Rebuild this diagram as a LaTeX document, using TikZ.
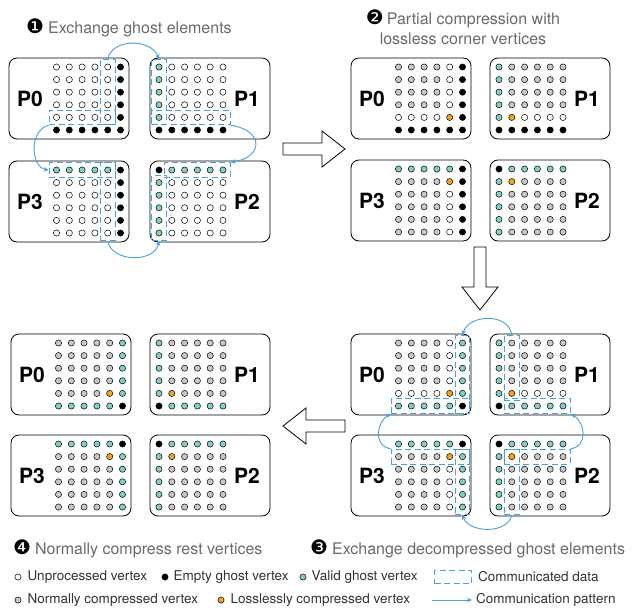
\documentclass[tikz,border=0pt]{standalone}
\usepackage{fontspec}
\setmainfont{TeX Gyre Heros}
\newfontfamily\dingfont{DejaVu Sans}
\usepackage{xcolor}
\usepackage{tikz}
\usetikzlibrary{positioning, calc, fit, arrows.meta}

\definecolor{commblue}{RGB}{74,160,216}
\definecolor{stepgray}{RGB}{105,105,105}
\definecolor{legendgray}{RGB}{50,50,50}
% vertex fills: w unprocessed, k empty ghost, t valid ghost, g compressed, o lossless
\colorlet{cw}{white}
\colorlet{ck}{black}
\definecolor{ct}{RGB}{132,206,200}
\definecolor{cg}{RGB}{200,200,200}
\definecolor{co}{RGB}{244,165,30}

% step number in a black disc
\newcommand{\stepno}[1]{\textcolor{black}{\dingfont\fontsize{20}{20}\selectfont #1}}

% one rank: box, label and its 6x6 vertices
\newcommand{\rank}[6]{%
  \node[rankbox, anchor=north west] (#1) at (#2) {};
  \node[ranklabel] (#1-lbl) at ($(#1.west)+(#4,0)$) {#3};
  \foreach \dotrow [count=\ri] in {#6} {
    \foreach \kind [count=\ci] in \dotrow {
      \node[vertex=c\kind] (#1-\ri-\ci) at ($(#1.north west)+(#5+12.8*\ci-12.8,9+12.6*\ri-12.6)$) {};
    }
  }
}

\begin{document}
\begin{tikzpicture}[x=1pt, y=-1pt,
    rankbox/.style={draw, rounded corners=8pt, line width=0.8pt, minimum width=120pt, minimum height=81pt, inner sep=0pt, outer sep=0pt},
    ranklabel/.style={font=\fontsize{21}{21}\selectfont\bfseries, inner sep=0pt},
    vertex/.style={circle, draw, fill=#1, line width=0.5pt, minimum size=6.2pt, inner sep=0pt},
    comm/.style={draw=commblue, line width=0.9pt, dash pattern=on 6pt off 3.5pt, inner sep=4pt},
    commarrow/.style={draw=commblue, line width=0.9pt, -{Stealth[length=5pt,width=4.5pt]}},
    hollow/.style={draw, line width=0.8pt, fill=white, line join=miter},
    steptitle/.style={text=stepgray, font=\fontsize{16}{20}\selectfont, inner sep=0pt},
    legtext/.style={text=legendgray, font=\fontsize{13.5}{16}\selectfont, inner sep=1pt}]
  \useasboundingbox (0,0) rectangle (633,608);

  % step titles
  \node[steptitle, anchor=west] (step1) at (26,28) {\stepno{❶}\hspace{4pt}Exchange ghost elements};
  \node[steptitle, align=center] (step2) at (463,27) {\stepno{❷}\hspace{3pt}Partial compression with\\lossless corner vertices};
  \node[steptitle, anchor=west] (step4) at (13,549) {\stepno{❹}\hspace{4pt}Normally compress rest vertices};
  \node[steptitle, anchor=west] (step3) at (310,549) {\stepno{❸}\hspace{4pt}Exchange decompressed ghost elements};

  % step 1: exchange ghost elements
  \rank{a0}{9,58}{P0}{21}{47.5}{{w,w,w,w,w,k},{w,w,w,w,w,k},{w,w,w,w,w,k},{w,w,w,w,w,k},{w,w,w,w,w,k},{k,k,k,k,k,k}}
  \rank{a1}{150,58}{P1}{97}{9}{{t,w,w,w,w,w},{t,w,w,w,w,w},{t,w,w,w,w,w},{t,w,w,w,w,w},{t,w,w,w,w,w},{k,k,k,k,k,k}}
  \rank{a3}{9,161}{P3}{21}{47.5}{{t,t,t,t,t,k},{w,w,w,w,w,k},{w,w,w,w,w,k},{w,w,w,w,w,k},{w,w,w,w,w,k},{w,w,w,w,w,k}}
  \rank{a2}{150,161}{P2}{97}{9}{{k,t,t,t,t,t},{t,w,w,w,w,w},{t,w,w,w,w,w},{t,w,w,w,w,w},{t,w,w,w,w,w},{t,w,w,w,w,w}}

  \node[comm, fit=(a0-1-5)(a0-5-5)] (a0-col) {};
  \node[comm, fit=(a0-5-1)(a0-5-5)] (a0-row) {};
  \node[comm, fit=(a1-1-1)(a1-5-1)] (a1-col) {};
  \node[comm, fit=(a1-5-1)(a1-5-6)] (a1-row) {};
  \node[comm, fit=(a3-1-1)(a3-1-5)] (a3-row) {};
  \node[comm, fit=(a3-1-5)(a3-6-5)] (a3-col) {};
  \node[comm, fit=(a2-1-2)(a2-1-6)] (a2-row) {};
  \node[comm, fit=(a2-2-1)(a2-6-1)] (a2-col) {};

  \draw[commarrow] (a0-col.north) .. controls ($(a0-col.north)+(4,-21)$) and ($(a1-col.north)+(-8,-21)$) .. (a1-col.north);
  \draw[commarrow] (a0-row.south west) .. controls ($(a0-row.south west)+(-20,5)$) and ($(a3-row.west)+(-18,-3)$) .. (a3-row.west);
  \draw[commarrow] (a1-row.south east) .. controls ($(a1-row.south east)+(33,5)$) and ($(a2-row.north east)+(33,-5)$) .. (a2-row.north east);
  \draw[commarrow] (a3-col.south) .. controls ($(a3-col.south)+(4,22)$) and ($(a2-col.south)+(-4,22)$) .. (a2-col.south);

  % step 2: partial compression
  \rank{b0}{351,58}{P0}{21}{47.5}{{g,g,g,g,w,k},{g,g,g,g,w,k},{g,g,g,g,w,k},{g,g,g,g,w,k},{w,w,w,w,o,k},{k,k,k,k,k,k}}
  \rank{b1}{490,58}{P1}{97}{9}{{t,g,g,g,g,g},{t,g,g,g,g,g},{t,g,g,g,g,g},{t,g,g,g,g,g},{t,o,w,w,w,w},{k,k,k,k,k,k}}
  \rank{b3}{351,160}{P3}{21}{47.5}{{t,t,t,t,t,k},{g,g,g,g,o,k},{g,g,g,g,w,k},{g,g,g,g,w,k},{g,g,g,g,w,k},{g,g,g,g,w,k}}
  \rank{b2}{490,160}{P2}{97}{9}{{k,t,t,t,t,t},{t,o,g,g,g,g},{t,g,g,g,g,g},{t,g,g,g,g,g},{t,g,g,g,g,g},{t,g,g,g,g,g}}

  % step 3: exchange decompressed ghost elements
  \rank{c0}{351,334}{P0}{21}{47.5}{{g,g,g,g,w,t},{g,g,g,g,w,t},{g,g,g,g,w,t},{g,g,g,g,w,t},{w,w,w,w,o,t},{t,t,t,t,t,k}}
  \rank{c1}{490,334}{P1}{97}{9}{{t,g,g,g,g,g},{t,g,g,g,g,g},{t,g,g,g,g,g},{t,g,g,g,g,g},{t,o,w,w,w,w},{k,t,t,t,t,t}}
  \rank{c3}{351,435}{P3}{21}{47.5}{{t,t,t,t,t,k},{g,g,g,g,o,t},{g,g,g,g,w,t},{g,g,g,g,w,t},{g,g,g,g,w,t},{g,g,g,g,w,t}}
  \rank{c2}{490,435}{P2}{97}{9}{{k,t,t,t,t,t},{t,o,g,g,g,g},{t,g,g,g,g,g},{t,g,g,g,g,g},{t,g,g,g,g,g},{t,g,g,g,g,g}}

  \node[comm, fit=(c0-1-6)(c0-6-6)] (c0-col) {};
  \node[comm, fit=(c0-6-1)(c0-6-6)] (c0-row) {};
  \node[comm, fit=(c1-1-2)(c1-5-2)] (c1-col) {};
  \node[comm, fit=(c1-6-2)(c1-6-6)] (c1-row) {};
  \node[comm, fit=(c3-2-1)(c3-2-6)] (c3-row) {};
  \node[comm, fit=(c3-2-6)(c3-6-6)] (c3-col) {};
  \node[comm, fit=(c2-2-2)(c2-2-6)] (c2-row) {};
  \node[comm, fit=(c2-2-2)(c2-6-2)] (c2-col) {};

  \draw[commarrow] (c1-col.north) .. controls ($(c1-col.north)+(-3,-23)$) and ($(c0-col.north)+(6,-21)$) .. (c0-col.north);
  \draw[commarrow] (c3-row.north west) .. controls ($(c3-row.north west)+(-18,-3)$) and ($(c0-row.south west)+(-14,8)$) .. (c0-row.south west);
  \draw[commarrow] (c2-row.north east) .. controls ($(c2-row.north east)+(18,-3)$) and ($(c1-row.south east)+(14,8)$) .. (c1-row.south east);
  \draw[commarrow] (c2-col.south) .. controls ($(c2-col.south)+(-4,20)$) and ($(c3-col.south)+(6,18)$) .. (c3-col.south);

  % step 4: normal compression of the rest
  \rank{d0}{11,334}{P0}{21}{47.5}{{g,g,g,g,g,t},{g,g,g,g,g,t},{g,g,g,g,g,t},{g,g,g,g,g,t},{g,g,g,g,o,t},{t,t,t,t,t,k}}
  \rank{d1}{150,334}{P1}{97}{9}{{t,g,g,g,g,g},{t,g,g,g,g,g},{t,g,g,g,g,g},{t,g,g,g,g,g},{t,o,g,g,g,g},{k,t,t,t,t,t}}
  \rank{d3}{11,435}{P3}{21}{47.5}{{t,t,t,t,t,k},{g,g,g,g,o,t},{g,g,g,g,g,t},{g,g,g,g,g,t},{g,g,g,g,g,t},{g,g,g,g,g,t}}
  \rank{d2}{150,435}{P2}{97}{9}{{k,t,t,t,t,t},{t,o,g,g,g,g},{t,g,g,g,g,g},{t,g,g,g,g,g},{t,g,g,g,g,g},{t,g,g,g,g,g}}

  % big arrows between the steps
  \draw[hollow] (283,143) -- (322,143) -- (322,131) -- (345,149) -- (322,167) -- (322,155) -- (283,155) -- cycle;
  \draw[hollow] (474,247) -- (486,247) -- (486,287) -- (498,287) -- (480,310) -- (462,287) -- (474,287) -- cycle;
  \draw[hollow] (345,420) -- (306,420) -- (306,408) -- (283,426) -- (306,444) -- (306,432) -- (345,432) -- cycle;

  % legend
  \node[vertex=cw] (lg-w) at (18,577) {};
  \node[legtext, right=5pt of lg-w] (lg-w-txt) {Unprocessed vertex};
  \node[vertex=ck] (lg-k) at (165,577) {};
  \node[legtext, right=4pt of lg-k] (lg-k-txt) {Empty ghost vertex};
  \node[vertex=ct] (lg-t) at (303,577) {};
  \node[legtext, right=4pt of lg-t] (lg-t-txt) {Valid ghost vertex};
  \node[comm, minimum width=37pt, minimum height=13pt, inner sep=0pt] (lg-comm) at (453,577) {};
  \node[legtext, right=5pt of lg-comm] (lg-comm-txt) {Communicated data};

  \node[vertex=cg] (lg-g) at (18,600) {};
  \node[legtext, right=5pt of lg-g] (lg-g-txt) {Normally compressed vertex};
  \node[vertex=co] (lg-o) at (221,600) {};
  \node[legtext, right=5pt of lg-o] (lg-o-txt) {Losslessly compressed vertex};
  \coordinate (lg-from) at (432,600);
  \coordinate (lg-to) at (472,600);
  \draw[commarrow] (lg-from) -- (lg-to);
  \node[legtext, right=3pt of lg-to] (lg-arrow-txt) {Communication pattern};
\end{tikzpicture}
\end{document}
